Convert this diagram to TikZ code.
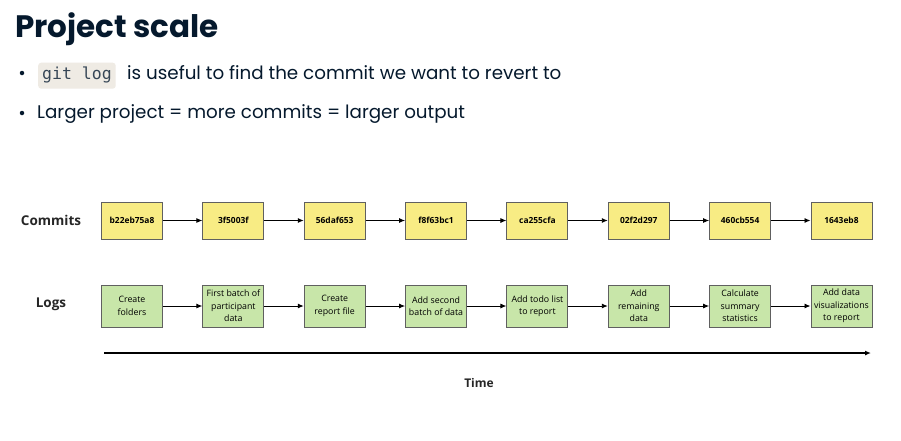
\documentclass[tikz,border=0pt]{standalone}
\usepackage{fontspec}
\setmainfont{Poppins}
\newfontfamily\diagfont{Open Sans}
\newfontfamily\codefont{DejaVu Sans Mono}
\usetikzlibrary{arrows.meta}
\definecolor{navy}{HTML}{05192D}
\definecolor{commitfill}{HTML}{F8EC84}
\definecolor{logfill}{HTML}{C8E6A9}
\definecolor{boxline}{HTML}{606060}
\definecolor{codebg}{HTML}{EFEBE4}
\tikzset{
  commitbox/.style={draw=boxline, fill=commitfill, line width=0.9pt, minimum width=61pt, minimum height=37pt, inner sep=1pt, font=\diagfont\bfseries\fontsize{8.4}{9}\selectfont},
  logbox/.style={draw=boxline, fill=logfill, line width=0.9pt, minimum width=61pt, minimum height=42pt, inner sep=1pt, align=center, font=\diagfont\fontsize{8.8}{12.5}\selectfont},
  link/.style={-{Latex[length=6pt,width=5pt]}, line width=0.9pt, black},
  rowlabel/.style={font=\diagfont\bfseries\fontsize{13.5}{15}\selectfont, text=black!85},
  bulletdot/.style={circle, fill=navy, inner sep=0pt, minimum size=4.5pt},
  bullettext/.style={anchor=base west, inner sep=0pt, text=navy, font=\fontsize{18.3}{21}\selectfont}
}
\begin{document}
\begin{tikzpicture}[x=1pt,y=-1pt]
\useasboundingbox[fill=white] (0,0) rectangle (901,440);
% title
\node[anchor=base west, inner sep=0pt, text=navy, font=\bfseries\fontsize{31}{36}\selectfont] (title) at (15,37) {Project scale};
% bullets
\node[bulletdot] (b1) at (22,73) {};
\node[anchor=base west, inner sep=0pt, fill=codebg, rounded corners=3pt, text=navy!80, font=\codefont\fontsize{16.5}{18}\selectfont, minimum height=26pt, text depth=6pt, inner xsep=4pt] (code) at (38,79) {git log};
\node[bullettext] (t1) at (127,79) {is useful to find the commit we want to revert to};
\node[bulletdot] (b2) at (22,113) {};
\node[bullettext] (t2) at (37,118) {Larger project = more commits = larger output};
% row labels
\node[rowlabel] (lc) at (51,220) {Commits};
\node[rowlabel] (ll) at (51,304) {Logs};
% commits
\foreach \i/\t in {1/b22eb75a8,2/3f5003f,3/56daf653,4/f8f63bc1,5/ca255cfa,6/02f2d297,7/460cb554,8/1643eb8}{
  \node[commitbox] (c\i) at ({132+101.35*(\i-1)},220.5) {\t};
}
% logs
\foreach \i/\t in {1/{Create\\folders},2/{First batch of\\participant\\data},3/{Create\\report file},4/{Add second\\batch of data},5/{Add todo list\\to report},6/{Add\\remaining\\data},7/{Calculate\\summary\\statistics},8/{Add data\\visualizations\\to report}}{
  \node[logbox] (l\i) at ({132+101.35*(\i-1)},306) {\t};
}
\foreach \i [evaluate=\i as \j using int(\i+1)] in {1,...,7}{
  \draw[link] (c\i) -- (c\j);
  \draw[link] (l\i) -- (l\j);
}
% time axis
\coordinate (ts) at (104,353);
\coordinate (te) at (871,353);
\draw[link, line width=1.3pt] (ts) -- (te);
\node[font=\diagfont\bfseries\fontsize{12}{14}\selectfont, text=black!85] (time) at (479,383) {Time};
\end{tikzpicture}
\end{document}
